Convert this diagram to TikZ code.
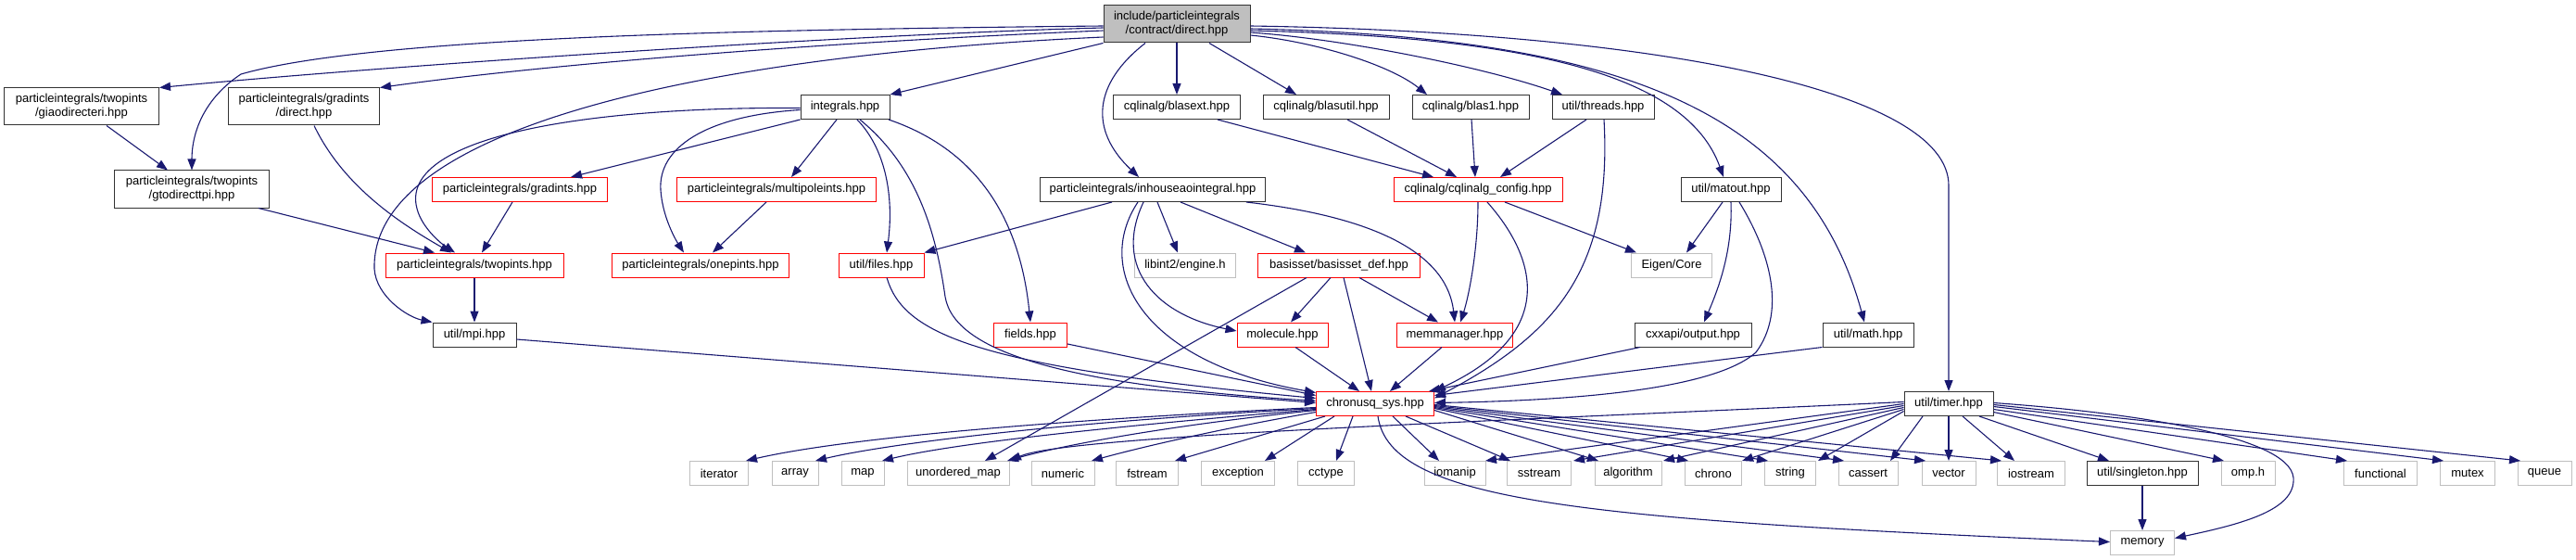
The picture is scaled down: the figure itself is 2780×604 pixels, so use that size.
\documentclass[tikz,border=0pt]{standalone}
\usepackage{fontspec}
\newfontfamily\gfont{Liberation Sans}
\usetikzlibrary{arrows.meta,calc}
\definecolor{edgeblue}{HTML}{191970}
\definecolor{extgray}{HTML}{BFBFBF}
\definecolor{topfill}{HTML}{BFBFBF}
\tikzset{
  box/.style={draw, line width=1pt, inner sep=0pt, minimum height=26pt, align=center, font={\gfont\fontsize{13}{15}\selectfont}},
  blk/.style={box, draw=black!80},
  redb/.style={box, draw=red},
  ext/.style={box, draw=extgray},
  twol/.style={minimum height=40pt},
  topn/.style={box, draw=black!80, fill=topfill, minimum height=40pt},
  e/.style={draw=edgeblue, line width=1.1pt, -{Triangle[length=12pt,width=9pt]}}
}
\begin{document}
\begin{tikzpicture}[x=1pt,y=-1pt]
\useasboundingbox (0,0) rectangle (2780,604);
% nodes
\node[topn, minimum width=158pt] (T) at (1270,26) {include/particleintegrals\\/contract/direct.hpp};
\node[blk, twol, minimum width=167pt] (giao) at (88,115) {particleintegrals/twopints\\/giaodirecteri.hpp};
\node[blk, twol, minimum width=163pt] (gdir) at (328,115) {particleintegrals/gradints\\/direct.hpp};
\node[blk, minimum width=96pt] (integ) at (912,115.5) {integrals.hpp};
\node[blk, minimum width=137pt] (blasext) at (1270,115.5) {cqlinalg/blasext.hpp};
\node[blk, minimum width=136pt] (blasutil) at (1431,115.5) {cqlinalg/blasutil.hpp};
\node[blk, minimum width=126pt] (blas1) at (1587,115.5) {cqlinalg/blas1.hpp};
\node[blk, minimum width=110pt] (threads) at (1730,115.5) {util/threads.hpp};
\node[blk, twol, minimum width=167pt] (gto) at (207,204) {particleintegrals/twopints\\/gtodirecttpi.hpp};
\node[redb, minimum width=189pt] (gradints) at (561,204.5) {particleintegrals/gradints.hpp};
\node[redb, minimum width=215pt] (multi) at (838,204.5) {particleintegrals/multipoleints.hpp};
\node[blk, minimum width=243pt] (inhouse) at (1244,204.5) {particleintegrals/inhouseaointegral.hpp};
\node[redb, minimum width=182pt] (config) at (1595,204.5) {cqlinalg/cqlinalg\_config.hpp};
\node[blk, minimum width=108pt] (matout) at (1868,204.5) {util/matout.hpp};
\node[redb, minimum width=192pt] (twop) at (512,286) {particleintegrals/twopints.hpp};
\node[redb, minimum width=191pt] (onep) at (756,286) {particleintegrals/onepints.hpp};
\node[redb, minimum width=92pt] (files) at (951,286) {util/files.hpp};
\node[ext, minimum width=109pt] (libint) at (1279,286) {libint2/engine.h};
\node[redb, minimum width=175pt] (basis) at (1445,286) {basisset/basisset\_def.hpp};
\node[ext, minimum width=87pt] (eigen) at (1804,286) {Eigen/Core};
\node[blk, minimum width=90pt] (mpi) at (512,361) {util/mpi.hpp};
\node[redb, minimum width=79pt] (fields) at (1112,361) {fields.hpp};
\node[redb, minimum width=98pt] (mol) at (1384,361) {molecule.hpp};
\node[redb, minimum width=125pt] (mem) at (1570,361) {memmanager.hpp};
\node[blk, minimum width=126pt] (cxx) at (1827,361) {cxxapi/output.hpp};
\node[blk, minimum width=98pt] (math) at (2016,361) {util/math.hpp};
\node[redb, minimum width=127pt] (chr) at (1484,435.5) {chronusq\_sys.hpp};
\node[blk, minimum width=96pt] (timer) at (2103,435.5) {util/timer.hpp};
\node[ext, minimum width=63pt] (iter) at (776,510.5) {iterator};
\node[ext, minimum width=50pt] (array) at (858,510.5) {array};
\node[ext, minimum width=46pt] (map) at (931,510.5) {map};
\node[ext, minimum width=110pt] (umap) at (1034,510.5) {unordered\_map};
\node[ext, minimum width=68pt] (numeric) at (1147,510.5) {numeric};
\node[ext, minimum width=67pt] (fstream) at (1238,510.5) {fstream};
\node[ext, minimum width=79pt] (exc) at (1336,510.5) {exception};
\node[ext, minimum width=61pt] (cctype) at (1431,510.5) {cctype};
\node[ext, minimum width=66pt] (iomanip) at (1570,510.5) {iomanip};
\node[ext, minimum width=69pt] (sstream) at (1661,510.5) {sstream};
\node[ext, minimum width=72pt] (algo) at (1757,510.5) {algorithm};
\node[ext, minimum width=61pt] (chrono) at (1849,510.5) {chrono};
\node[ext, minimum width=55pt] (string) at (1932,510.5) {string};
\node[ext, minimum width=64pt] (cassert) at (2016,510.5) {cassert};
\node[ext, minimum width=58pt] (vector) at (2103,510.5) {vector};
\node[ext, minimum width=73pt] (iostream) at (2192,510.5) {iostream};
\node[blk, minimum width=120pt] (single) at (2312,510.5) {util/singleton.hpp};
\node[ext, minimum width=58pt] (omp) at (2426,510.5) {omp.h};
\node[ext, minimum width=79pt] (func) at (2569,510.5) {functional};
\node[ext, minimum width=59pt] (mutex) at (2663,510.5) {mutex};
\node[ext, minimum width=58pt] (queue) at (2746,510.5) {queue};
\node[ext, minimum width=69pt] (memory) at (2312,585.5) {memory};
% edges from top node
\draw[e] ($(T.west)+(0,4)$) .. controls (950,36) and (450,68) .. (giao.north east);
\draw[e] ($(T.west)+(0,2)$) .. controls (800,32) and (400,40) .. (260,80) .. controls (215,110) and (207,150) .. (gto.north);
\draw[e] ($(T.west)+(0,7)$) .. controls (900,45) and (600,68) .. (gdir.north east);
\draw[e] ($(T.west)+(0,14)$) .. controls (750,60) and (400,140) .. (404,290) .. controls (406,320) and (440,342) .. (mpi.north west);
\draw[e] (T.south west) -- (integ.north east);
\draw[e] ($(T.south)+(-34,0)$) .. controls (1180,90) and (1175,140) .. ($(inhouse.north)+(-15,0)$);
\draw[e] (T.south) -- (blasext.north);
\draw[e] ($(T.south)+(35,0)$) -- ($(blasutil.north)+(-32,0)$);
\draw[e] ($(T.east)+(0,12)$) .. controls (1420,45) and (1500,70) .. ($(blas1.north)+(-47,0)$);
\draw[e] ($(T.east)+(0,9)$) .. controls (1450,42) and (1600,72) .. ($(threads.north)+(-44,0)$);
\draw[e] ($(T.east)+(0,7)$) .. controls (1650,40) and (1820,80) .. ($(matout.north)+(-8,0)$);
\draw[e] ($(T.east)+(0,5)$) .. controls (1750,40) and (1950,120) .. ($(math.north)+(-4,0)$);
\draw[e] ($(T.east)+(0,2)$) .. controls (1800,35) and (2103,100) .. (2103,200) -- (timer.north);
% row1 -> row2/3
\draw[e] ($(giao.south)+(27,0)$) -- ($(gto.north)+(-26,0)$);
\draw[e] ($(gdir.south)+(11,0)$) .. controls (370,200) and (430,240) .. ($(twop.north)+(-25,0)$);
\draw[e] ($(gto.south)+(72,0)$) -- ($(twop.north)+(-43,0)$);
\draw[e] ($(integ.west)+(0,1)$) .. controls (620,115) and (430,150) .. (450,225) .. controls (455,245) and (475,262) .. ($(twop.north)+(-21,0)$);
\draw[e] (integ.south west) -- ($(gradints.north)+(55,0)$);
\draw[e] ($(integ.west)+(0,3)$) .. controls (760,125) and (710,160) .. (713,205) .. controls (715,235) and (730,260) .. ($(onep.north)+(-18,0)$);
\draw[e] ($(integ.south)+(-9,0)$) -- ($(multi.north)+(16,0)$);
\draw[e] ($(integ.south)+(13,0)$) .. controls (955,160) and (965,210) .. ($(files.north)+(6,0)$);
\draw[e] ($(integ.south)+(47,0)$) .. controls (1050,160) and (1100,230) .. (fields.north);
\draw[e] ($(integ.south)+(16,0)$) .. controls (990,180) and (1010,250) .. (1020,320) .. controls (1030,380) and (1150,415) .. ($(chr.west)+(0,-3)$);
\draw[e] ($(files.south)+(6,0)$) .. controls (975,360) and (1050,395) .. ($(chr.west)+(0,-6)$);
\draw[e] ($(multi.south)+(-11,0)$) -- ($(onep.north)+(13,0)$);
\draw[e] ($(gradints.south)+(-8,0)$) -- ($(twop.north)+(8,0)$);
\draw[e] (twop.south) -- (mpi.north);
\draw[e] ($(mpi.east)+(0,5)$) -- ($(chr.west)+(0,-1)$);
\draw[e] ($(fields.east)+(0,10)$) -- ($(chr.west)+(0,-9)$);
% inhouse
\draw[e] ($(inhouse.south)+(-44,0)$) -- (files.north east);
\draw[e] ($(inhouse.south)+(5,0)$) -- ($(libint.north)+(-8,0)$);
\draw[e] ($(inhouse.south)+(30,0)$) -- ($(basis.north)+(-36,0)$);
\draw[e] ($(inhouse.south)+(101,0)$) .. controls (1450,230) and (1560,260) .. (mem.north);
\draw[e] ($(inhouse.south)+(-10,0)$) .. controls (1200,290) and (1250,340) .. ($(mol.west)+(0,-4)$);
\draw[e] ($(inhouse.south)+(-16,0)$) .. controls (1180,290) and (1230,390) .. ($(chr.west)+(0,-12)$);
% cqlinalg
\draw[e] ($(blasext.south)+(44,0)$) -- ($(config.north)+(-48,0)$);
\draw[e] ($(blasutil.south)+(23,0)$) -- ($(config.north)+(-23,0)$);
\draw[e] ($(blas1.south)+(1,0)$) -- ($(config.north)+(-3,0)$);
\draw[e] ($(threads.south)+(-18,0)$) -- ($(config.north)+(24,0)$);
\draw[e] ($(threads.south)+(1,0)$) .. controls (1740,290) and (1680,360) .. ($(chr.east)+(0,-6)$);
\draw[e] ($(config.south)+(29,0)$) -- ($(eigen.north)+(-38,0)$);
\draw[e] (config.south) .. controls (1595,270) and (1585,320) .. ($(mem.north)+(6,0)$);
\draw[e] ($(config.south)+(10,0)$) .. controls (1660,280) and (1680,360) .. (chr.north east);
% matout
\draw[e] ($(matout.south)+(-9,0)$) -- ($(eigen.north)+(16,0)$);
\draw[e] (matout.south) .. controls (1870,270) and (1855,310) .. ($(cxx.north)+(12,0)$);
\draw[e] ($(matout.south)+(9,0)$) .. controls (1915,280) and (1925,340) .. (1895,380) .. controls (1850,420) and (1700,432) .. ($(chr.east)+(0,-1)$);
% row4 -> chronusq
\draw[e] ($(cxx.south)+(-57,0)$) -- ($(chr.north)+(58,0)$);
\draw[e] (math.south west) -- ($(chr.east)+(0,-9)$);
\draw[e] ($(mem.south)+(-14,0)$) -- ($(chr.north)+(16,0)$);
\draw[e] ($(mol.south)+(14,0)$) -- ($(chr.north)+(-17,0)$);
\draw[e] ($(basis.south)+(5,0)$) -- ($(chr.north)+(-4,0)$);
\draw[e] ($(basis.south)+(22,0)$) -- ($(mem.north)+(-18,0)$);
\draw[e] ($(basis.south)+(-9,0)$) -- ($(mol.north)+(9,0)$);
\draw[e] ($(basis.south)+(-35,0)$) -- ($(umap.north)+(29,0)$);
% chronusq -> leaves
\draw[e] ($(chr.west)+(0,4)$) .. controls (1100,455) and (900,475) .. ($(iter.north)+(29,0)$);
\draw[e] ($(chr.west)+(0,5)$) .. controls (1150,455) and (960,478) .. ($(array.north)+(22,0)$);
\draw[e] ($(chr.west)+(0,6)$) .. controls (1200,460) and (1030,478) .. ($(map.north)+(21,0)$);
\draw[e] ($(chr.west)+(0,7)$) .. controls (1250,460) and (1140,482) .. ($(umap.north)+(53,0)$);
\draw[e] ($(chr.west)+(0,9)$) .. controls (1330,460) and (1240,480) .. ($(numeric.north)+(31,0)$);
\draw[e] ($(chr.south)+(-54,0)$) -- ($(fstream.north)+(30,0)$);
\draw[e] ($(chr.south)+(-44,0)$) -- ($(exc.north)+(29,0)$);
\draw[e] ($(chr.south)+(-24,0)$) -- ($(cctype.north)+(11,0)$);
\draw[e] ($(chr.south)+(19,0)$) -- ($(iomanip.north)+(-17,0)$);
\draw[e] ($(chr.south)+(33,0)$) -- ($(sstream.north)+(-31,0)$);
\draw[e] ($(chr.east)+(0,7)$) -- ($(algo.north)+(-32,0)$);
\draw[e] ($(chr.east)+(0,5)$) -- ($(chrono.north)+(-27,0)$);
\draw[e] ($(chr.east)+(0,4)$) -- ($(string.north)+(-24,0)$);
\draw[e] ($(chr.east)+(0,3)$) -- ($(cassert.north)+(-26,0)$);
\draw[e] ($(chr.east)+(0,2)$) -- ($(vector.north)+(-25,0)$);
\draw[e] ($(chr.east)+(0,1)$) -- ($(iostream.north)+(-32,0)$);
\draw[e] ($(chr.south)+(3,0)$) .. controls (1500,540) and (1700,560) .. ($(memory.west)+(0,-1)$);
% timer -> leaves
\draw[e] ($(timer.west)+(0,-2)$) .. controls (1600,455) and (1150,470) .. ($(umap.north)+(56,0)$);
\draw[e] (timer.west) -- ($(iomanip.north)+(33,0)$);
\draw[e] ($(timer.west)+(0,2)$) -- ($(sstream.north)+(37,0)$);
\draw[e] ($(timer.west)+(0,4)$) -- ($(algo.north)+(38,0)$);
\draw[e] ($(timer.west)+(0,6)$) -- ($(chrono.north)+(31,0)$);
\draw[e] ($(timer.west)+(0,8)$) -- ($(string.north)+(30,0)$);
\draw[e] ($(timer.south)+(-28,0)$) -- ($(cassert.north)+(24,0)$);
\draw[e] (timer.south) -- (vector.north);
\draw[e] ($(timer.south)+(15,0)$) -- ($(iostream.north)+(-18,0)$);
\draw[e] ($(timer.south)+(33,0)$) -- ($(single.north)+(-36,0)$);
\draw[e] ($(timer.east)+(0,9)$) -- ($(omp.north)+(-26,0)$);
\draw[e] ($(timer.east)+(0,6)$) -- ($(func.north)+(-36,0)$);
\draw[e] ($(timer.east)+(0,3)$) -- ($(mutex.north)+(-26,0)$);
\draw[e] ($(timer.east)+(0,1)$) -- ($(queue.north)+(-26,0)$);
\draw[e] ($(timer.east)+(0,-1)$) .. controls (2300,445) and (2470,470) .. (2475,515) .. controls (2478,550) and (2420,565) .. ($(memory.east)+(0,-5)$);
\draw[e] (single.south) -- (memory.north);
\end{tikzpicture}
\end{document}
